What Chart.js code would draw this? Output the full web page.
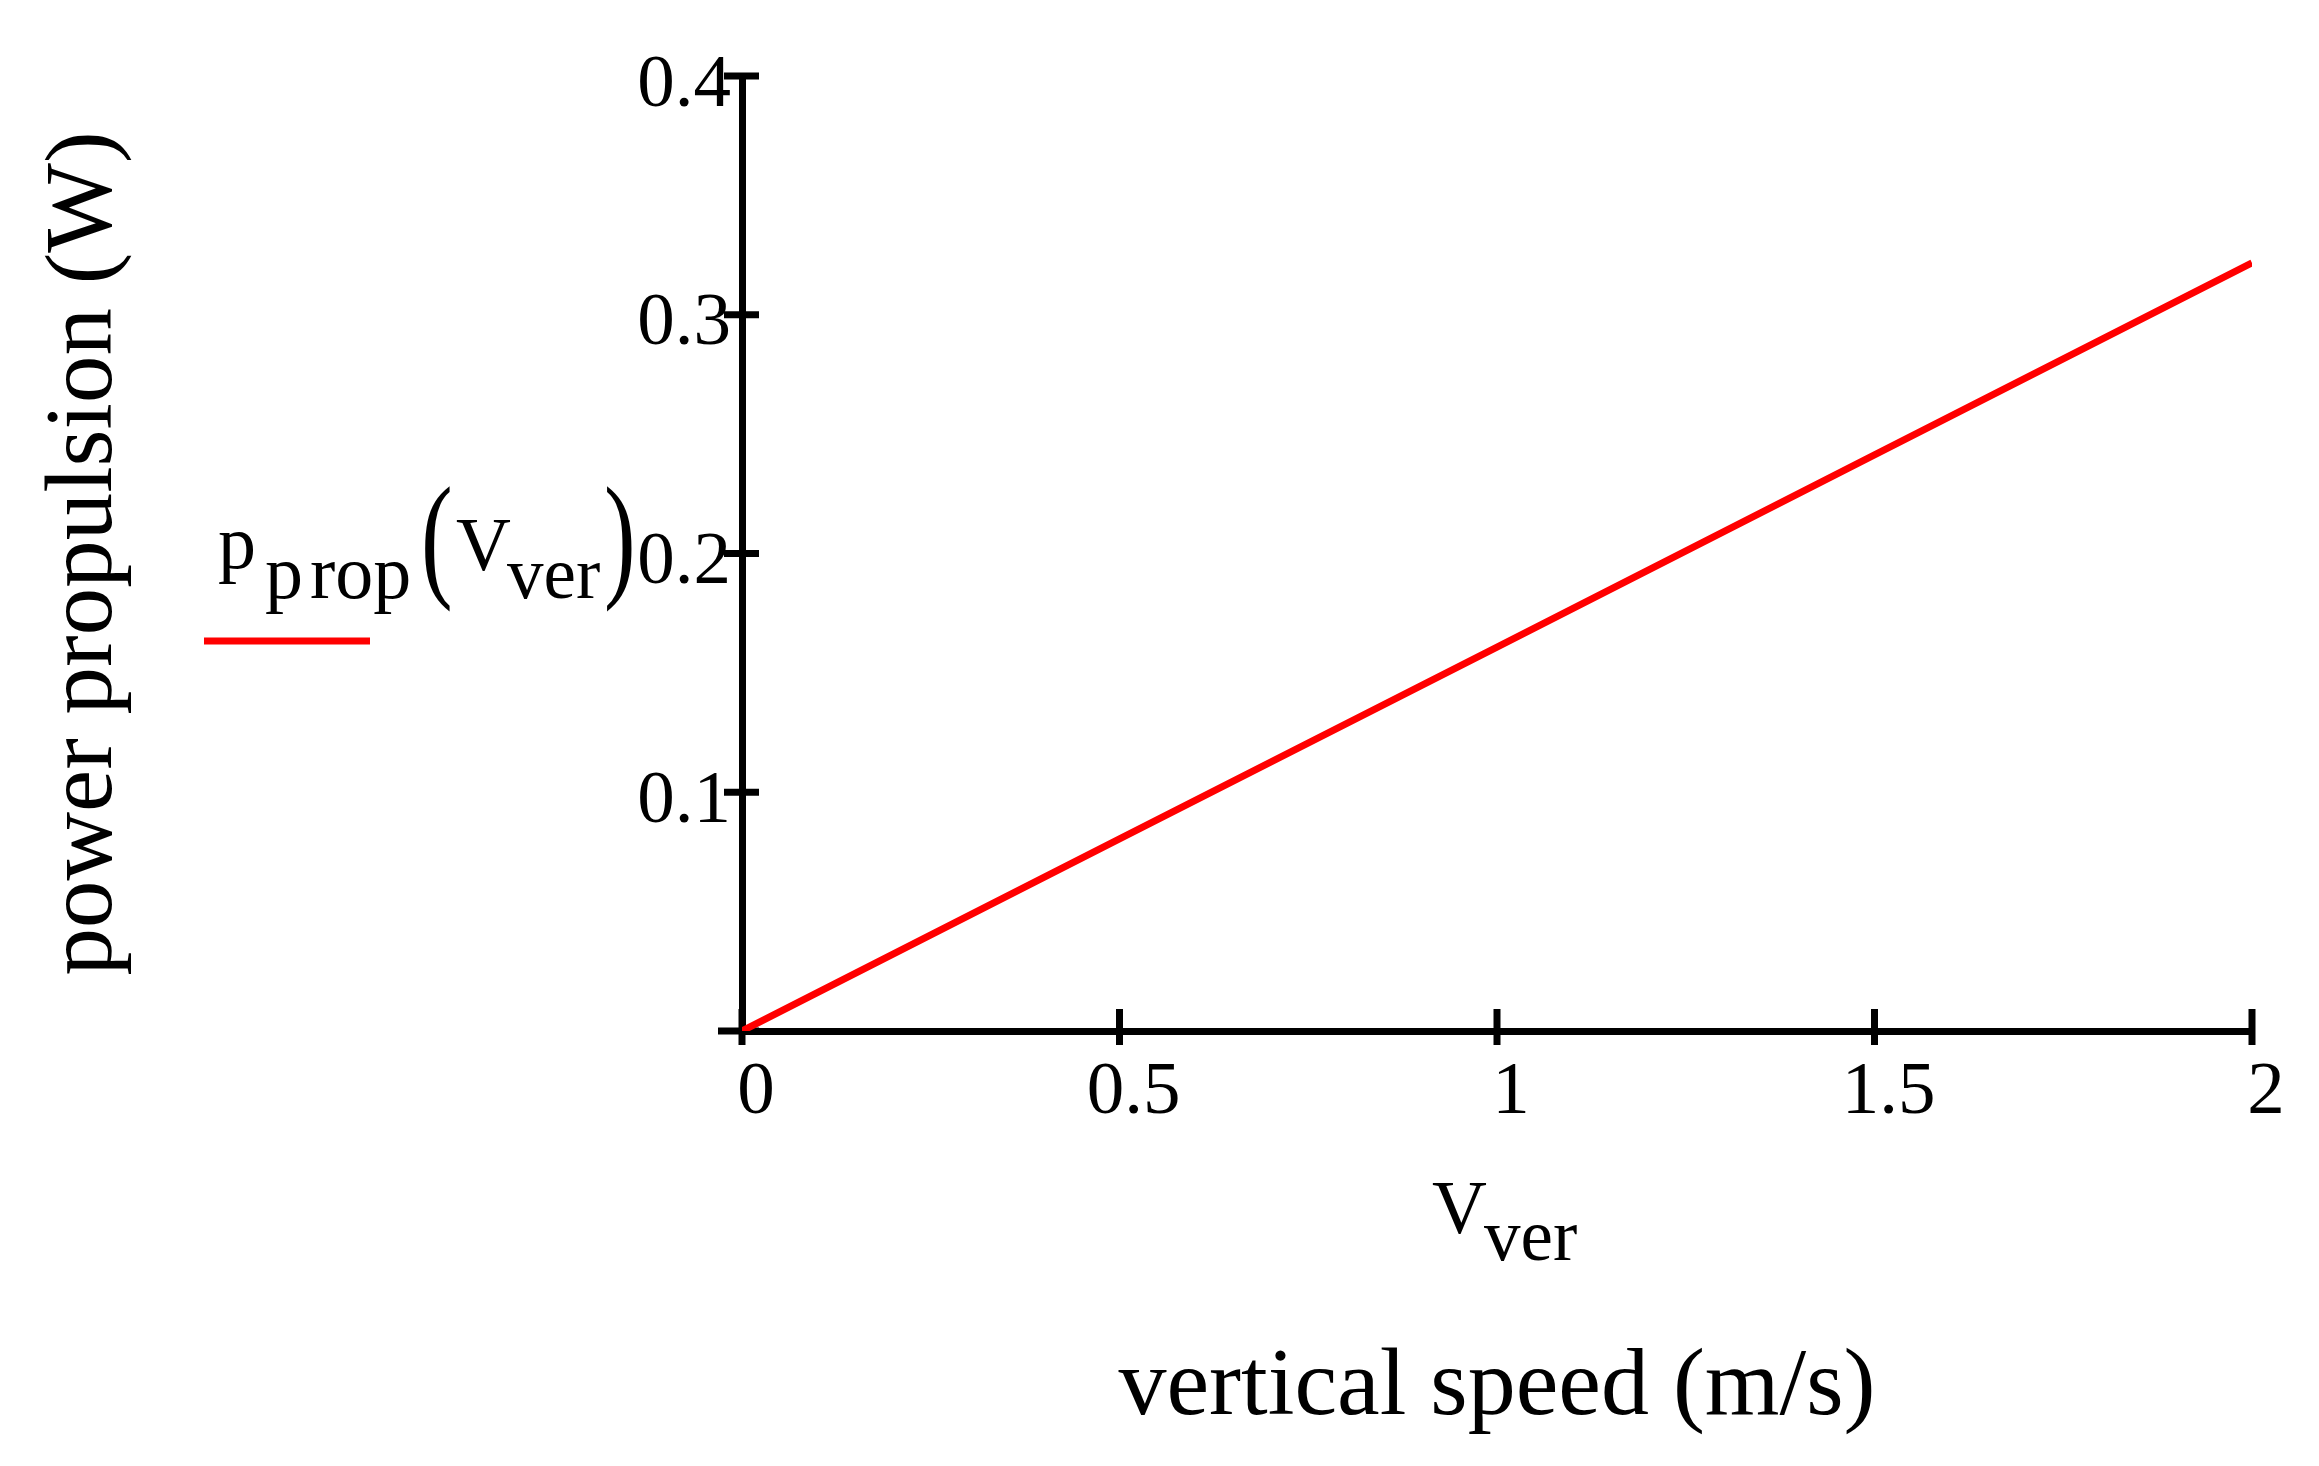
<!DOCTYPE html>
<html>
<head>
<meta charset="utf-8">
<script src="https://cdn.jsdelivr.net/npm/chart.js@4"></script>
<style>
  html, body { margin: 0; padding: 0; background: #fff; }
  canvas { display: block; }
</style>
</head>
<body>
<canvas id="chart" width="2319" height="1466"></canvas>
<script>
// values
var speeds = [0, 0.5, 1, 1.5, 2]
var power = [0, 0.0805, 0.1608, 0.2413, 0.3217]
var xTickLabels = ['0', '0.5', '1', '1.5', '2']
var yTickLabels = ['', '0.1', '0.2', '0.3', '0.4']

var serif = "'Liberation Serif', 'Times New Roman', serif"

function font(size) {
  return size + 'px ' + serif
}

// ticks that cross the axis, like the original
var crossTicks = {
  id: 'crossTicks',
  beforeDatasetsDraw: function(chart) {
    var ctx = chart.ctx
    var xs = chart.scales.x
    var ys = chart.scales.y
    var ax = chart.chartArea.left
    var ay = chart.chartArea.bottom
    ctx.save()
    ctx.strokeStyle = '#000'
    ctx.lineWidth = 7
    ctx.lineCap = 'butt'
    ys.ticks.forEach(function(t) {
      var py = ys.getPixelForValue(t.value)
      var left = t.value === 0 ? 24 : 18
      ctx.beginPath()
      ctx.moveTo(ax - left, py)
      ctx.lineTo(ax + 17, py)
      ctx.stroke()
    })
    xs.ticks.forEach(function(t) {
      var px = xs.getPixelForValue(t.value)
      ctx.beginPath()
      ctx.moveTo(px, ay - 22)
      ctx.lineTo(px, ay + 14)
      ctx.stroke()
    })
    ctx.restore()
  }
}

function tallParen(ctx, ch, x, bottom) {
  ctx.save()
  ctx.translate(x, bottom)
  ctx.scale(1, 1.45)
  ctx.font = font(95)
  ctx.textBaseline = 'alphabetic'
  ctx.fillText(ch, 0, -17)
  ctx.restore()
}

// legend and the V_ver axis name, they need subscripts
var mathLabels = {
  id: 'mathLabels',
  afterDraw: function(chart) {
    var ctx = chart.ctx
    ctx.save()
    ctx.fillStyle = '#000'
    ctx.textAlign = 'left'
    ctx.textBaseline = 'alphabetic'

    ctx.font = font(76)
    ctx.fillText('p', 218, 568)
    ctx.fillText('p', 265, 598)
    ctx.fillText('rop', 310, 598)
    tallParen(ctx, '(', 421, 607)
    ctx.font = font(76)
    ctx.fillText('V', 456, 570)
    ctx.font = font(73)
    ctx.fillText('ver', 507, 598)
    tallParen(ctx, ')', 604, 607)

    ctx.strokeStyle = '#ff0000'
    ctx.lineWidth = 7
    ctx.beginPath()
    ctx.moveTo(204, 641)
    ctx.lineTo(370, 641)
    ctx.stroke()

    ctx.font = font(76)
    ctx.fillText('V', 1432, 1233)
    ctx.font = font(73)
    ctx.fillText('ver', 1484, 1260)
    ctx.restore()
  }
}

var points = speeds.map(function(v, i) {
  return {x: v, y: power[i]}
})

new Chart(document.getElementById('chart'), {
  type: 'line',
  data: {
    datasets: [{
      label: 'p_prop(V_ver)',
      data: points,
      borderColor: '#ff0000',
      backgroundColor: '#ff0000',
      borderWidth: 7,
      pointRadius: 0,
      tension: 0,
      fill: false
    }]
  },
  options: {
    responsive: false,
    devicePixelRatio: 1,
    animation: false,
    layout: {padding: {top: 76, right: 67, left: 0, bottom: 0}},
    plugins: {
      legend: {display: false},
      tooltip: {enabled: false}
    },
    scales: {
      x: {
        type: 'linear',
        min: 0,
        max: 2,
        afterFit: function(s) { s.height = 435 },
        grid: {display: false, drawTicks: false},
        border: {display: true, color: '#000', width: 7},
        ticks: {
          stepSize: 0.5,
          autoSkip: false,
          maxRotation: 0,
          padding: 17,
          labelOffset: 14,
          color: '#000',
          font: {family: serif, size: 75},
          callback: function(v, i) { return xTickLabels[i] }
        },
        title: {
          display: true,
          text: 'vertical speed (m/s)',
          color: '#000',
          font: {family: serif, size: 96},
          padding: {top: 0, bottom: 20}
        }
      },
      y: {
        type: 'linear',
        min: 0,
        max: 0.4,
        afterFit: function(s) { s.width = 742 },
        grid: {display: false, drawTicks: false},
        border: {display: true, color: '#000', width: 7},
        ticks: {
          stepSize: 0.1,
          autoSkip: false,
          padding: 11,
          labelOffset: 10,
          color: '#000',
          font: {family: serif, size: 75},
          callback: function(v, i) { return yTickLabels[i] }
        },
        title: {
          display: true,
          text: 'power propulsion (W)',
          color: '#000',
          font: {family: serif, size: 95},
          padding: {top: 29, bottom: 0}
        }
      }
    }
  },
  plugins: [crossTicks, mathLabels]
})
</script>
</body>
</html>
